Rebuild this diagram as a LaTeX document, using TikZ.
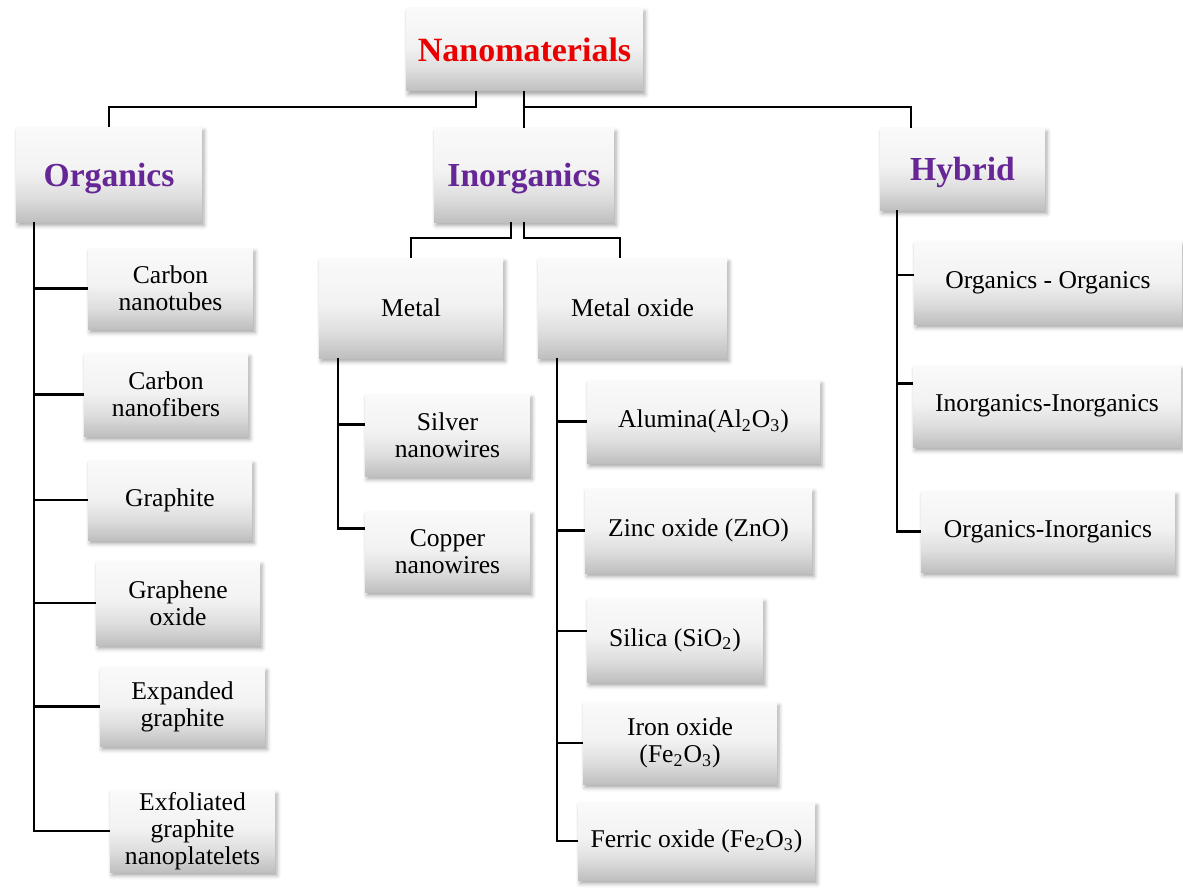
\documentclass[tikz,border=0pt]{standalone}
\usepackage{fontspec}
\setmainfont{Liberation Serif}
\usetikzlibrary{shadows.blur}
\definecolor{headpurple}{RGB}{102,38,150}
\definecolor{titlered}{RGB}{235,0,0}
% light-to-grey vertical fill of the boxes (bottom listed first)
\pgfdeclareverticalshading{boxshade}{100bp}{color(0bp)=(black!25); color(25bp)=(black!25); color(38bp)=(black!13); color(52bp)=(black!5); color(75bp)=(black!2); color(100bp)=(black!2)}
% \mkbox{name}{x1}{y1}{x2}{y2}{style}{text}
\newcommand\mkbox[7]{\node[#6, minimum width={(#4-#2)*0.5pt}, minimum height={(#5-#3)*0.5pt}] (#1) at ({(#2+#4)/2},{(#3+#5)/2}) {#7};}
\begin{document}
\begin{tikzpicture}[x=0.5pt,y=-0.5pt,
  box/.style={shade, shading=boxshade, inner sep=0pt, outer sep=0pt, align=center,
    font=\fontsize{12.8}{13.6}\selectfont,
    blur shadow={shadow xshift=1pt, shadow yshift=-1.8pt, shadow blur radius=2pt, shadow opacity=35}},
  head/.style={box, text=headpurple, text depth=0pt, font=\bfseries\fontsize{16.8}{18}\selectfont},
  titlebox/.style={box, text=titlered, font=\bfseries\fontsize{17}{18}\selectfont},
  conn/.style={draw=black, line width=1.2pt}]
\useasboundingbox (0,0) rectangle (1183,888);

% top levels
\mkbox{nano}{406}{8}{643}{91}{titlebox}{Nanomaterials}
\mkbox{org}{16}{127}{202}{222}{head}{Organics}
\mkbox{inorg}{434}{128}{614}{222}{head}{Inorganics}
\mkbox{hyb}{880}{128}{1045}{210}{head}{Hybrid}

% organics
\mkbox{cnt}{88}{248}{253}{329}{box}{Carbon\\nanotubes}
\mkbox{cnf}{84}{353}{248}{436}{box}{Carbon\\nanofibers}
\mkbox{gra}{88}{460}{252}{540}{box}{Graphite}
\mkbox{go}{96}{561}{260}{645}{box}{Graphene\\oxide}
\mkbox{eg}{100}{667}{265}{746}{box}{Expanded\\graphite}
\mkbox{egn}{110}{790}{275}{872}{box}{Exfoliated\\graphite\\nanoplatelets}

% inorganics
\mkbox{metal}{319}{258}{503}{358}{box}{Metal}
\mkbox{mox}{538}{258}{727}{358}{box}{Metal oxide}
\mkbox{ag}{365}{394}{530}{476}{box}{Silver\\nanowires}
\mkbox{cu}{365}{511}{530}{592}{box}{Copper\\nanowires}
\mkbox{al}{587}{380}{820}{463}{box}{Alumina(Al\textsubscript{2}O\textsubscript{3})}
\mkbox{zno}{585}{488}{812}{573}{box}{Zinc oxide (ZnO)}
\mkbox{si}{587}{598}{763}{682}{box}{Silica (SiO\textsubscript{2})}
\mkbox{fe}{583}{702}{777}{784}{box}{Iron oxide\\(Fe\textsubscript{2}O\textsubscript{3})}
\mkbox{fer}{578}{802}{815}{880}{box}{Ferric oxide (Fe\textsubscript{2}O\textsubscript{3})}

% hybrid
\mkbox{oo}{914}{241}{1182}{324}{box}{Organics - Organics}
\mkbox{ii}{913}{365}{1181}{447}{box}{Inorganics-Inorganics}
\mkbox{oi}{921}{491}{1175}{572}{box}{Organics-Inorganics}

% links from the root
\draw[conn] ([xshift=-24.25pt]nano.south) -- ++(0,16) -| (org.north);
\draw[conn] (inorg.north |- nano.south) -- (inorg.north);
\draw[conn] (inorg.north |- nano.south) ++(0,16) -| ([xshift=-25.75pt]hyb.north);

% links from Inorganics
\draw[conn] ([xshift=-6.5pt]inorg.south) -- ++(0,16) -| (metal.north);
\draw[conn] (inorg.south) -- ++(0,16) -| ([xshift=-6.25pt]mox.north);

% organics trunk
\coordinate (ot) at ([xshift=-37.5pt]org.south);
\draw[conn] (ot) |- (egn.west);
\foreach \n in {cnt,cnf,gra,go,eg} \draw[conn] (\n.west) -- (\n.west -| ot);

% metal trunk
\coordinate (mt) at ([xshift=-36.5pt]metal.south);
\draw[conn] (mt) |- ([yshift=11.5pt]cu.west);
\draw[conn] ([yshift=5.25pt]ag.west) -- ([yshift=5.25pt]ag.west -| mt);

% metal oxide trunk
\coordinate (xt) at ([xshift=-37.75pt]mox.south);
\draw[conn] (xt) |- (fer.west);
\foreach \n in {al,zno,fe} \draw[conn] (\n.west) -- (\n.west -| xt);
\draw[conn] ([yshift=4.5pt]si.west) -- ([yshift=4.5pt]si.west -| xt);

% hybrid trunk
\coordinate (ht) at ([xshift=-32.75pt]hyb.south);
\draw[conn] (ht) |- (oi.west);
\draw[conn] ([yshift=3.75pt]oo.west) -- ([yshift=3.75pt]oo.west -| ht);
\draw[conn] ([yshift=11.25pt]ii.west) -- ([yshift=11.25pt]ii.west -| ht);
\end{tikzpicture}
\end{document}
